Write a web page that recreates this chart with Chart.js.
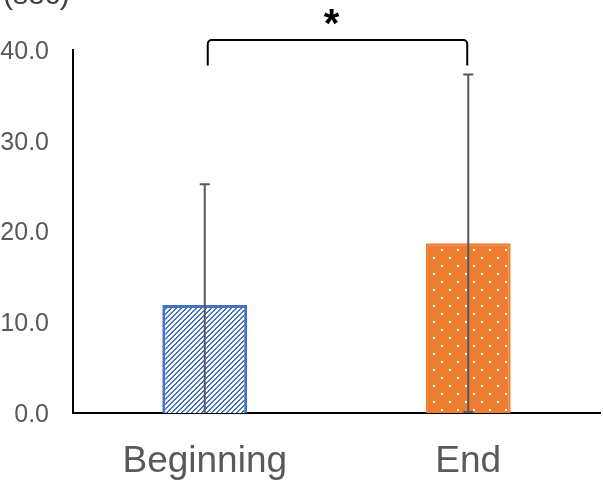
<!DOCTYPE html>
<html>
<head>
<meta charset="utf-8">
<script src="https://cdn.jsdelivr.net/npm/chart.js@4/dist/chart.umd.min.js"></script>
<style>
    body { margin: 0; background: #fff; }
    #wrap { width: 603px; height: 484px; }
</style>
</head>
<body>
<div id="wrap"><canvas id="chart" width="603" height="484"></canvas></div>
<script>
// ---- data ----
const categories = ['Beginning', 'End'];
const means = [11.9, 18.7];
const sds = [13.3, 18.6];
const yTicks = [0, 10, 20, 30, 40];
const unitLabel = '(sec)';
const sigMark = '*';

const BLUE = '#4472C4';
const ORANGE = '#ED7D31';
const GREY = '#595959';

// ---- fill patterns ----
function stripePattern(ctx) {
    const s = 5;
    const c = document.createElement('canvas');
    c.width = s; c.height = s;
    const g = c.getContext('2d');
    const img = g.createImageData(s, s);
    for (let y = 0; y < s; y++) {
        for (let x = 0; x < s; x++) {
            const white = ((x + y) % s) < 3;
            const i = (y * s + x) * 4;
            img.data[i] = white ? 255 : 0x44;
            img.data[i + 1] = white ? 255 : 0x72;
            img.data[i + 2] = white ? 255 : 0xC4;
            img.data[i + 3] = 255;
        }
    }
    g.putImageData(img, 0, 0);
    return ctx.createPattern(c, 'repeat');
}

function dotPattern(ctx) {
    const s = 16;
    const c = document.createElement('canvas');
    c.width = s; c.height = s;
    const g = c.getContext('2d');
    g.fillStyle = ORANGE;
    g.fillRect(0, 0, s, s);
    g.fillStyle = '#fff';
    g.fillRect(1, 1, 2, 2);
    g.fillRect(9, 9, 2, 2);
    return ctx.createPattern(c, 'repeat');
}

// ---- error bars, bracket, unit label ----
const extras = {
    id: 'extras',
    afterDatasetsDraw(chart) {
        const ctx = chart.ctx;
        const x = chart.scales.x;
        const y = chart.scales.y;
        const area = chart.chartArea;

        ctx.save();
        ctx.beginPath();
        ctx.rect(area.left, area.top - 20, area.right - area.left, area.bottom - area.top + 20);
        ctx.clip();
        ctx.strokeStyle = GREY;
        ctx.lineWidth = 2;
        means.forEach((m, i) => {
            const cx = x.getPixelForValue(i);
            const top = y.getPixelForValue(m + sds[i]);
            const low = y.getPixelForValue(m - sds[i]);
            ctx.beginPath();
            ctx.moveTo(cx, top);
            ctx.lineTo(cx, low);
            ctx.moveTo(cx - 5, top);
            ctx.lineTo(cx + 5, top);
            ctx.moveTo(cx - 5, low);
            ctx.lineTo(cx + 5, low);
            ctx.stroke();
        });
        ctx.restore();

        // significance bracket
        const x0 = x.getPixelForValue(0) + 3;
        const x1 = x.getPixelForValue(1) - 1;
        const yTop = y.getPixelForValue(41.1);
        const yLeg = y.getPixelForValue(38.3);
        const r = 4;
        ctx.save();
        ctx.strokeStyle = '#000';
        ctx.lineWidth = 2;
        ctx.beginPath();
        ctx.moveTo(x0, yLeg);
        ctx.arcTo(x0, yTop, x0 + r, yTop, r);
        ctx.arcTo(x1, yTop, x1, yTop + r, r);
        ctx.lineTo(x1, yLeg);
        ctx.stroke();

        ctx.fillStyle = '#000';
        ctx.font = 'bold 40px "Liberation Sans", Arial, sans-serif';
        ctx.textAlign = 'center';
        ctx.textBaseline = 'alphabetic';
        ctx.fillText(sigMark, (x0 + x1) / 2 - 6, 37);

        ctx.fillStyle = '#404040';
        ctx.font = '30px "Liberation Sans", Arial, sans-serif';
        ctx.textAlign = 'left';
        ctx.fillText(unitLabel, 3, 4);
        ctx.restore();
    }
};

const ctx = document.getElementById('chart').getContext('2d');
new Chart(ctx, {
    type: 'bar',
    data: {
        labels: categories,
        datasets: [{
            data: means,
            backgroundColor: [stripePattern(ctx), dotPattern(ctx)],
            borderColor: [BLUE, ORANGE],
            borderWidth: [3, 2],
            categoryPercentage: 1,
            barPercentage: 0.322
        }]
    },
    options: {
        responsive: false,
        animation: false,
        layout: { padding: { top: 50, right: 3, left: 0, bottom: 0 } },
        plugins: {
            legend: { display: false },
            tooltip: { enabled: false }
        },
        scales: {
            x: {
                grid: { display: false, drawTicks: false },
                border: { display: true, color: '#000', width: 2 },
                ticks: {
                    color: GREY,
                    padding: 27,
                    font: { family: '"Liberation Sans", Arial, sans-serif', size: 37 }
                },
                afterFit(scale) { scale.height = 71; }
            },
            y: {
                min: 0,
                max: 40,
                grid: { display: false, drawTicks: false },
                border: { display: true, color: '#000', width: 2 },
                afterBuildTicks(scale) {
                    scale.ticks = yTicks.map(v => ({ value: v }));
                },
                ticks: {
                    color: GREY,
                    padding: 24,
                    labelOffset: 2,
                    font: { family: '"Liberation Sans", Arial, sans-serif', size: 25 },
                    callback: v => v.toFixed(1)
                },
                afterFit(scale) { scale.width = 73; }
            }
        }
    },
    plugins: [extras]
});
</script>
</body>
</html>
